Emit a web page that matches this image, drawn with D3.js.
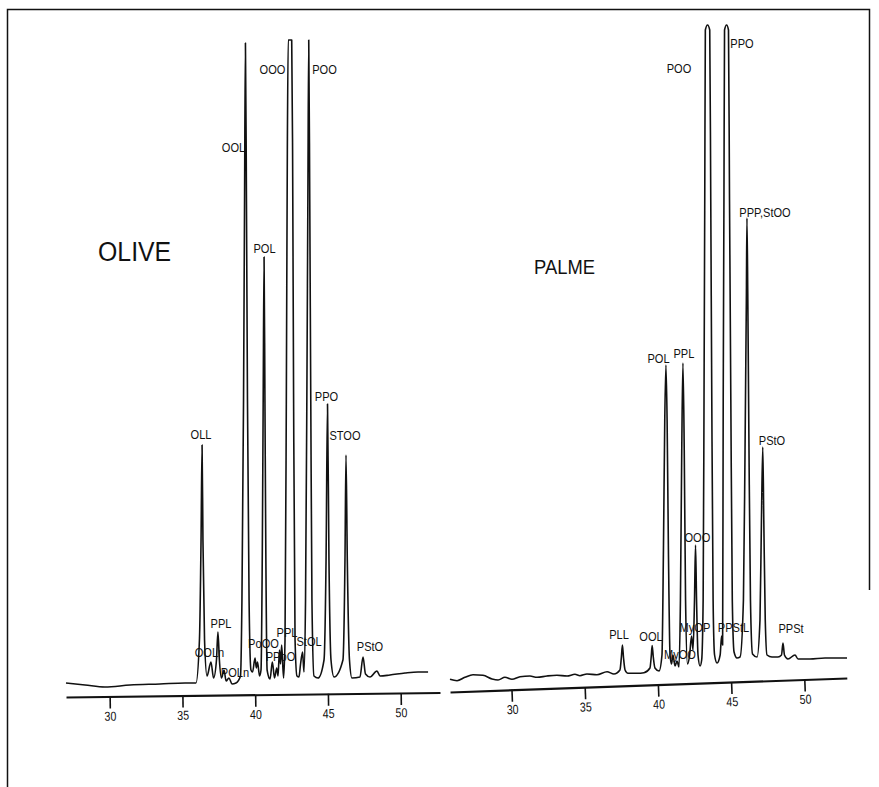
<!DOCTYPE html>
<html>
<head>
<meta charset="utf-8">
<script src="https://cdn.jsdelivr.net/npm/d3@7"></script>
<style>
  body { margin: 0; background: #fff; }
  svg { display: block; }
  .peak-label { font-family: "Liberation Sans", Arial, sans-serif; font-size: 13.5px; fill: #111; }
  .tick text { font-family: "Liberation Sans", Arial, sans-serif; font-size: 13px; fill: #111; }
  .title { font-family: "Liberation Sans", Arial, sans-serif; fill: #111; }
</style>
</head>
<body>
<div id="wrapper"></div>
<script>
// retention time (min) tick labels
const timeTicks = [30, 35, 40, 45, 50];

// OLIVE trace: [time, detector signal]
const oliveTrace = [
  [27.00, 14], [28.31, 12], [29.68, 10], [31.40, 12], [33.46, 13], [35.18, 14], [35.93, 14],
  [36.17, 57], [36.28, 157], [36.35, 252], [36.41, 157], [36.52, 57], [36.69, 21],
  [36.96, 35], [37.14, 19],
  [37.34, 37], [37.44, 65], [37.54, 37], [37.68, 19],
  [37.86, 27], [38.00, 16],
  [38.20, 19], [38.41, 13], [38.68, 14],
  [38.99, 21], [39.09, 97], [39.20, 297], [39.27, 497], [39.33, 654], [39.40, 497], [39.47, 297], [39.58, 97], [39.71, 27],
  [39.82, 25], [39.99, 39], [40.08, 29], [40.16, 35], [40.30, 21],
  [40.40, 27], [40.49, 147], [40.55, 297], [40.61, 440], [40.67, 297], [40.73, 147], [40.82, 27],
  [41.02, 18], [41.18, 35], [41.33, 19], [41.48, 29], [41.57, 21], [41.67, 47], [41.74, 33], [41.82, 52], [41.95, 19],
  [42.05, 57], [42.14, 297], [42.21, 547], [42.27, 657], [42.40, 700], [42.51, 657], [42.57, 547], [42.64, 297], [42.74, 57], [42.87, 21],
  [43.01, 20], [43.11, 32], [43.26, 45], [43.35, 25],
  [43.46, 97], [43.55, 297], [43.62, 497], [43.68, 670], [43.75, 497], [43.82, 297], [43.90, 97], [44.04, 21],
  [44.32, 19],
  [44.73, 37], [44.87, 137], [44.97, 293], [45.07, 137], [45.21, 37], [45.42, 20],
  [46.03, 37], [46.17, 137], [46.24, 242], [46.33, 137], [46.48, 37], [46.65, 19],
  [47.20, 20], [47.41, 40], [47.58, 23], [47.89, 20],
  [48.37, 26], [48.58, 21],
  [49.26, 22], [50.30, 24], [51.19, 25], [51.88, 25]
];

// PALME trace: [time, detector signal]
const palmeTrace = [
  [25.80, 12.7], [26.28, 11.3], [26.82, 14.7], [27.37, 17.3], [28.05, 16.7], [28.67, 13], [29.08, 12],
  [29.55, 14.7], [30.03, 12.7], [30.58, 15.3], [31.26, 16], [31.74, 14.7], [32.42, 16], [33.10, 16.7],
  [33.79, 16], [34.33, 17.7], [34.67, 16.3], [35.15, 18], [35.83, 17.3], [36.52, 20.3], [36.99, 18],
  [37.40, 22], [37.50, 35], [37.57, 47], [37.64, 35], [37.75, 22], [37.95, 18.7],
  [38.57, 18.7], [39.04, 19.3],
  [39.45, 24], [39.54, 36], [39.60, 46.5], [39.67, 36], [39.79, 24], [40.07, 21],
  [40.27, 37], [40.37, 142], [40.46, 272], [40.54, 327], [40.62, 272], [40.71, 142], [40.82, 37], [40.92, 28],
  [41.02, 37], [41.16, 26], [41.30, 31], [41.43, 25],
  [41.53, 92], [41.62, 242], [41.70, 329], [41.79, 242], [41.88, 92], [42.01, 28],
  [42.15, 36], [42.29, 56], [42.39, 42],
  [42.49, 92], [42.56, 147], [42.63, 92], [42.73, 37], [42.87, 26],
  [42.98, 32],
  [43.08, 92], [43.14, 292], [43.19, 492], [43.23, 662], [43.38, 730], [43.53, 662], [43.60, 492], [43.67, 292], [43.76, 92], [43.86, 37], [44.03, 29],
  [44.24, 37], [44.34, 56], [44.41, 47],
  [44.45, 292], [44.50, 492], [44.54, 662], [44.68, 730], [44.81, 662], [44.88, 492], [44.97, 292], [45.07, 92], [45.19, 40], [45.39, 34],
  [45.60, 35],
  [45.83, 92], [45.94, 242], [46.03, 392], [46.07, 474], [46.13, 392], [46.21, 242], [46.31, 92], [46.45, 38], [46.76, 35],
  [46.96, 72], [47.06, 172], [47.15, 245], [47.22, 172], [47.32, 72], [47.44, 37], [47.78, 35], [48.19, 35],
  [48.43, 37], [48.53, 49], [48.63, 37], [48.87, 33],
  [49.35, 37], [49.56, 33],
  [50.37, 33], [51.40, 34], [52.90, 34]
];

// peak names: [name, time, signal at label baseline]
const oliveLabels = [
  ["OLL", 36.28, 258], ["OOL", 38.51, 545], ["OOO", 41.19, 623], ["POO", 44.76, 623],
  ["POL", 40.64, 444], ["PPO", 44.90, 296], ["STOO", 46.17, 257], ["PPL", 37.65, 69],
  ["OOLn", 36.86, 40], ["POLn", 38.61, 20], ["PoOO", 40.57, 49], ["PPoO", 41.74, 36],
  ["PPL", 42.19, 60], ["StOL", 43.70, 51], ["PStO", 47.89, 46]
];

const palmeLabels = [
  ["POO", 41.43, 619], ["PPO", 45.73, 644], ["PPP,StOO", 47.30, 475], ["POL", 40.03, 329],
  ["PPL", 41.77, 334], ["PStO", 47.78, 247], ["OOO", 42.69, 150], ["PLL", 37.34, 53],
  ["OOL", 39.52, 51], ["MyOO", 41.50, 33], ["MyOP", 42.52, 60], ["PPStL", 45.15, 60],
  ["PPSt", 49.08, 59]
];

function drawChart() {

  const dimensions = { width: 879, height: 787 };
  const narrow = 0.82;   // the typeset labels are a condensed face

  const panels = [
    { title: "OLIVE", titleX: 98, titleY: 261, titleSize: 27,
      trace: oliveTrace, labels: oliveLabels,
      xDomain: [27, 52.7], xRange: [66, 440], yRange: [697, 40], yTop: 657,
      axisAngle: -0.69 },
    { title: "PALME", titleX: 534, titleY: 274, titleSize: 20,
      trace: palmeTrace, labels: palmeLabels,
      xDomain: [25.8, 52.9], xRange: [450, 847], yRange: [692, 25], yTop: 667,
      axisAngle: -2.02 }
  ];

  const wrapper = d3.select("#wrapper")
    .append("svg")
    .attr("width", dimensions.width)
    .attr("height", dimensions.height);

  // frame of the scanned sheet
  wrapper.append("path")
    .attr("d", "M7.5,787 V9.5 H869.5 V590")
    .attr("fill", "none")
    .attr("stroke", "#111")
    .attr("stroke-width", 1.5);

  panels.forEach(p => {
    const xScale = d3.scaleLinear().domain(p.xDomain).range(p.xRange);
    const yScale = d3.scaleLinear().domain([0, p.yTop]).range(p.yRange).clamp(true);

    const bounds = wrapper.append("g");

    const lineGenerator = d3.line()
      .x(d => xScale(d[0]))
      .y(d => yScale(d[1]))
      .curve(d3.curveMonotoneX);

    bounds.append("path")
      .datum(p.trace)
      .attr("d", lineGenerator)
      .attr("fill", "none")
      .attr("stroke", "#111")
      .attr("stroke-width", 1.6)
      .attr("stroke-linejoin", "round");

    // axis, slightly tilted like the recorder paper
    const axisScale = xScale.copy().range([0, p.xRange[1] - p.xRange[0]]);
    const xAxisGenerator = d3.axisBottom(axisScale)
      .tickValues(timeTicks)
      .tickSize(12)
      .tickSizeOuter(0)
      .tickPadding(3)
      .tickFormat(d3.format("d"));

    const xAxis = bounds.append("g")
      .attr("transform", `translate(${p.xRange[0]},${p.yRange[0]}) rotate(${p.axisAngle})`)
      .call(xAxisGenerator);

    xAxis.select(".domain").attr("stroke", "#111").attr("stroke-width", 2.2);
    xAxis.selectAll(".tick line").attr("stroke", "#111").attr("stroke-width", 1.6);
    xAxis.selectAll(".tick text").attr("transform", `scale(${narrow},1)`);

    bounds.selectAll(".peak-label")
      .data(p.labels)
      .join("text")
      .attr("class", "peak-label")
      .attr("transform", d => `translate(${xScale(d[1])},${yScale(d[2])}) scale(${narrow},1)`)
      .attr("text-anchor", "middle")
      .text(d => d[0]);

    bounds.append("text")
      .attr("class", "title")
      .attr("transform", `translate(${p.titleX},${p.titleY}) scale(0.92,1)`)
      .style("font-size", p.titleSize + "px")
      .text(p.title);
  });
}

drawChart();
</script>
</body>
</html>
